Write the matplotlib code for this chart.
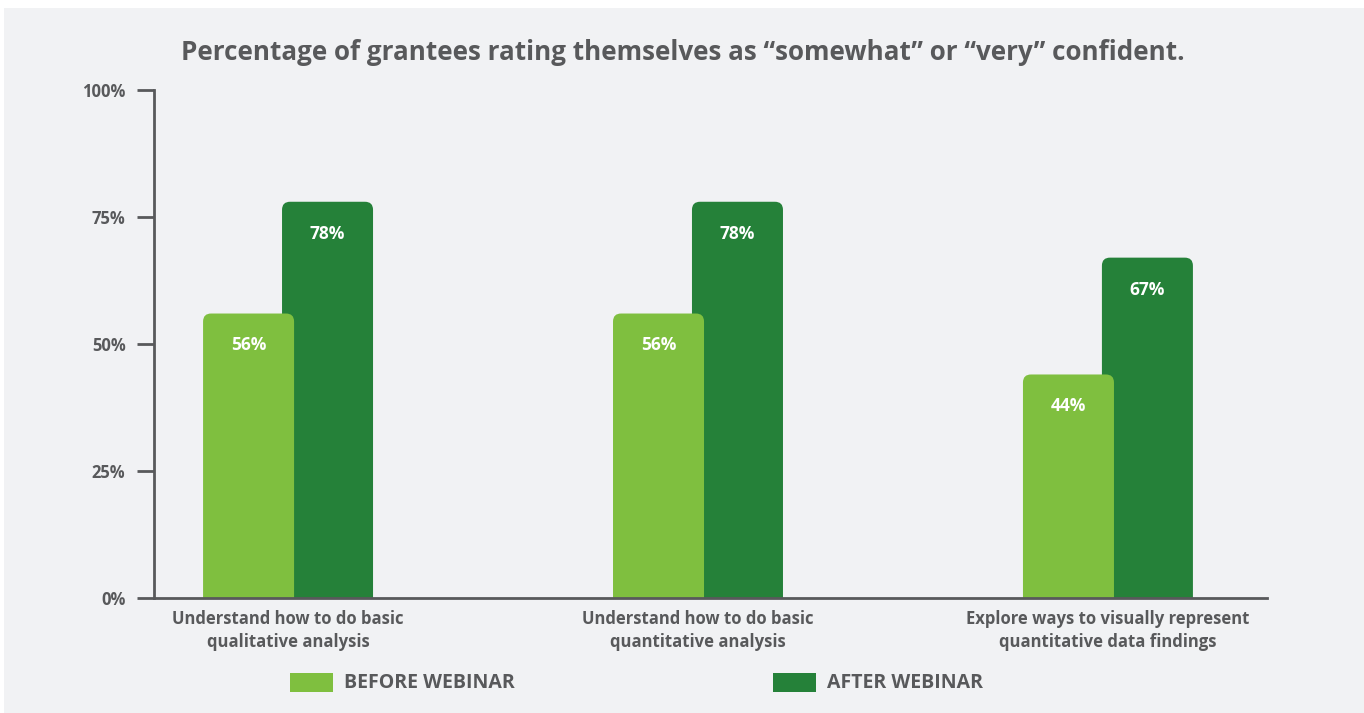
import matplotlib.pyplot as plt
from matplotlib.patches import FancyBboxPatch, Rectangle

plt.rcParams['font.family'] = ['Open Sans', 'DejaVu Sans']

categories = ["Understand how to do basic\nqualitative analysis",
              "Understand how to do basic\nquantitative analysis",
              "Explore ways to visually represent\nquantitative data findings"]
before = [56, 56, 44]
after = [78, 78, 67]
yticks = [0, 25, 50, 75, 100]
series_names = ["BEFORE WEBINAR", "AFTER WEBINAR"]

light = "#7fbf3f"
dark = "#258139"
grey = "#58595b"
bg = "#f1f2f4"

fig = plt.figure(figsize=(13.64, 7.13), dpi=100, facecolor="white")
fig.patches.append(Rectangle((4 / 1364, 0), 1, (713 - 8) / 713,
                             transform=fig.transFigure, facecolor=bg,
                             edgecolor="none", zorder=-5))

ax = fig.add_axes([154 / 1364, 115 / 713, 1113 / 1364, 508 / 713])
ax.set_zorder(2)
ax.set_facecolor("none")
ax.set_xlim(-0.327, 2.388)
ax.set_ylim(0, 100)

# data units per pixel in each direction, for round corners
bbox = ax.get_window_extent()
ux = (2.388 + 0.327) / bbox.width
uy = 100 / bbox.height
aspect = uy / ux

width = 0.222
offset = 0.0963
radius = 8 * ux


def rounded_bar(x, h, color, z):
    # box extends below zero so only the top corners show rounded
    p = FancyBboxPatch((x - width / 2, -10), width, h + 10,
                       boxstyle=f"round,pad=0,rounding_size={radius}",
                       mutation_aspect=aspect, facecolor=color,
                       edgecolor="none", zorder=z, clip_on=True)
    ax.add_patch(p)


for i, (b, a) in enumerate(zip(before, after)):
    rounded_bar(i + offset, a, dark, 2)
    rounded_bar(i - offset, b, light, 3)
    for x, v in ((i - offset, b), (i + offset, a)):
        ax.annotate(f"{v}%", (x, v), xytext=(0, -23), textcoords="offset points",
                    ha="center", va="center", color="white", fontsize=12.5,
                    fontweight="bold", zorder=5)

for s in ("top", "right"):
    ax.spines[s].set_visible(False)
for s in ("left", "bottom"):
    ax.spines[s].set_color(grey)
    ax.spines[s].set_linewidth(2)
    ax.spines[s].set_zorder(6)

ax.set_yticks(yticks)
ax.set_yticklabels([f"{t}%" for t in yticks], fontsize=12, fontweight="bold", color=grey)
ax.tick_params(axis="y", length=12.5, width=2, color=grey, pad=8)
ax.set_xticks(range(len(categories)))
ax.set_xticklabels(categories, fontsize=12, fontweight="bold", color=grey,
                   linespacing=1.3)
ax.tick_params(axis="x", length=0, pad=9)
for lbl in ax.get_xticklabels():
    lbl.set_ha("center")
    lbl.set_multialignment("center")

fig.text(683 / 1364, 1 - 52 / 713,
         "Percentage of grantees rating themselves as \u201csomewhat\u201d or \u201cvery\u201d confident.",
         ha="center", va="center", fontsize=18.7, fontweight="bold", color=grey)

# legend
for x0, name, col in ((290, series_names[0], light), (773, series_names[1], dark)):
    fig.patches.append(Rectangle((x0 / 1364, 1 - 692 / 713), 43 / 1364, 19 / 713,
                                 transform=fig.transFigure, facecolor=col,
                                 edgecolor="none"))
    fig.text((x0 + 54) / 1364, 1 - 683 / 713, name, ha="left", va="center",
             fontsize=14, fontweight="bold", color=grey)

fig.savefig("out.png", dpi=100, facecolor=fig.get_facecolor())
